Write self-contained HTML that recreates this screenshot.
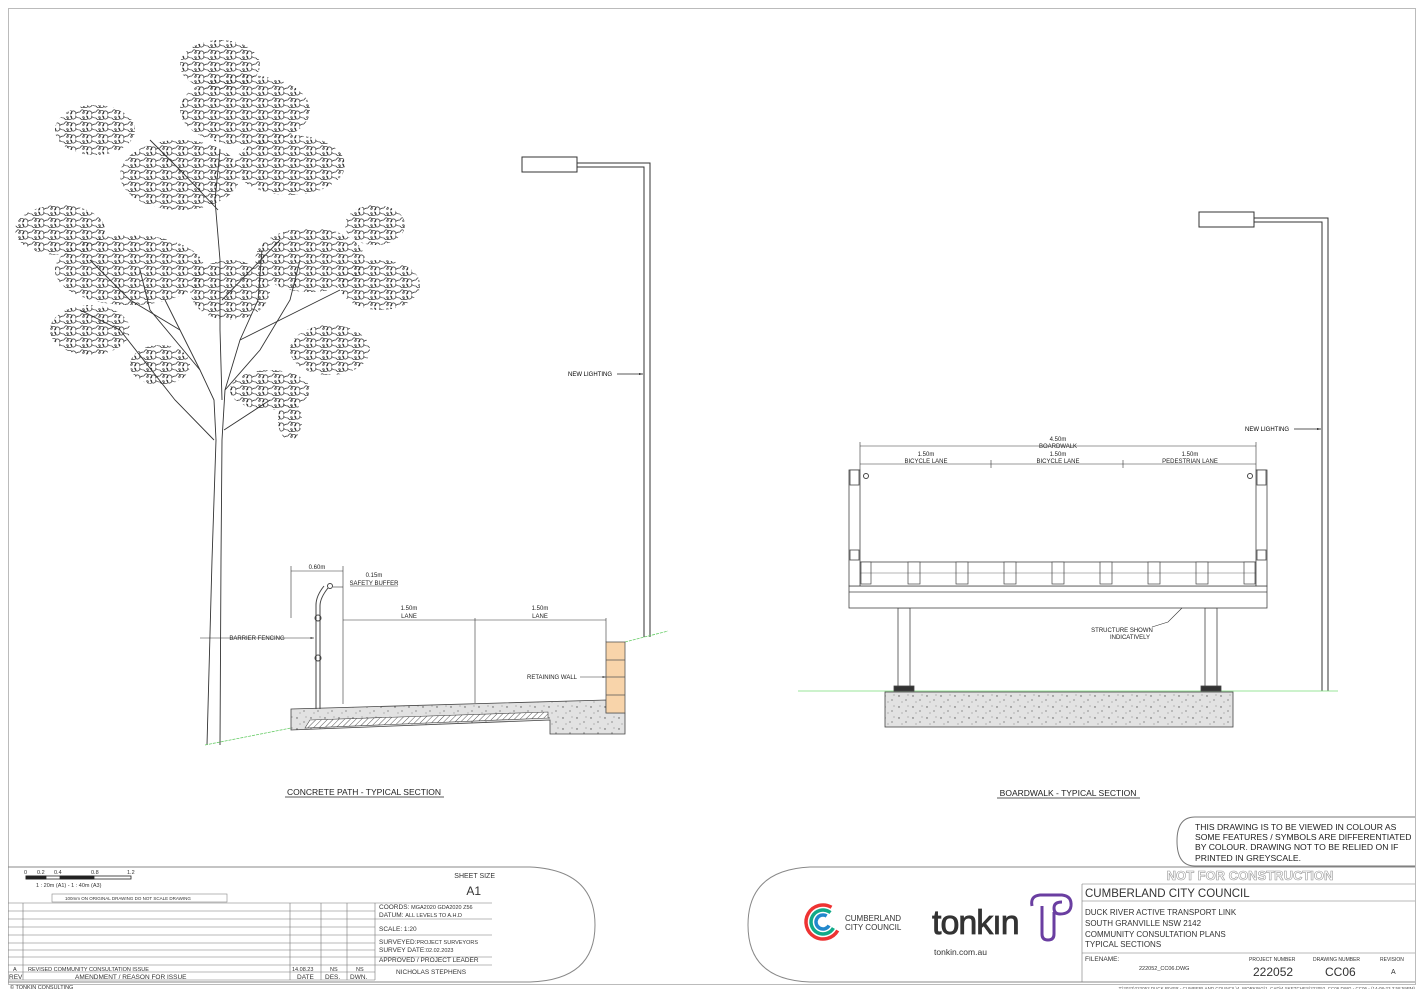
<!DOCTYPE html>
<html><head><meta charset="utf-8"><style>
html,body{margin:0;padding:0;background:#fff;}
svg{display:block;font-family:"Liberation Sans",sans-serif;}
</style></head><body>
<svg width="1423" height="989" viewBox="0 0 1423 989" xmlns="http://www.w3.org/2000/svg">
<defs>
<pattern id="conc" width="14" height="11" patternUnits="userSpaceOnUse">
<rect width="14" height="11" fill="#e2e2e2"/>
<circle cx="3" cy="3" r="0.7" fill="#555"/><circle cx="10" cy="7" r="0.6" fill="#555"/><circle cx="6" cy="9" r="0.5" fill="#666"/><circle cx="12" cy="2" r="0.5" fill="#666"/>
</pattern>
<pattern id="hatch" width="4" height="4" patternUnits="userSpaceOnUse" patternTransform="rotate(45)">
<rect width="4" height="4" fill="#fff"/><line x1="0" y1="0" x2="0" y2="4" stroke="#555" stroke-width="1"/>
</pattern>
<pattern id="leaf" width="16" height="12" patternUnits="userSpaceOnUse">
<path d="M0 4 q2 -4 4 -1 q1 3 -1.5 2 q2 -4 5 -2 q1 3 -1 3 q2 -5 5 -2 q1 2 0 2 q1 -2 4.5 -2 M0 10 q2 3 4 1 q1 -3 -1.5 -2 q2 4 5 2 q1 -3 -1 -3 q2 5 5 2 q1 -2 0 -2 q1 2 4.5 2" fill="none" stroke="#333" stroke-width="0.7"/>
</pattern>
<marker id="ar" markerWidth="6" markerHeight="6" refX="6" refY="3" orient="auto"><path d="M0 1.5 L6 3 L0 4.5z" fill="#222"/></marker>
</defs>

<rect x="8.5" y="8.5" width="1407" height="976" fill="none" stroke="#bbb"/>

<!-- TREE -->
<g fill="url(#leaf)" stroke="none">
<ellipse cx="220" cy="65" rx="40" ry="25"/>
<ellipse cx="245" cy="110" rx="65" ry="35"/>
<ellipse cx="95" cy="130" rx="40" ry="25"/>
<ellipse cx="290" cy="165" rx="55" ry="30"/>
<ellipse cx="180" cy="175" rx="60" ry="35"/>
<ellipse cx="60" cy="230" rx="45" ry="25"/>
<ellipse cx="375" cy="225" rx="30" ry="20"/>
<ellipse cx="130" cy="270" rx="75" ry="35"/>
<ellipse cx="310" cy="260" rx="55" ry="32"/>
<ellipse cx="380" cy="285" rx="40" ry="25"/>
<ellipse cx="90" cy="330" rx="40" ry="25"/>
<ellipse cx="230" cy="290" rx="40" ry="30"/>
<ellipse cx="330" cy="350" rx="40" ry="25"/>
<ellipse cx="160" cy="365" rx="30" ry="20"/>
<ellipse cx="270" cy="390" rx="40" ry="20"/>
<ellipse cx="290" cy="420" rx="12" ry="20"/>
</g>
<g fill="none" stroke="#333" stroke-width="0.9">
<path d="M207 745 L212 560 L216 440 L214 400 L200 370 L180 330 L165 300"/>
<path d="M220 745 L221 560 L222 440 L225 390 L240 340 L258 300 L262 250"/>
<path d="M214 440 L175 400 L120 330 L80 310"/>
<path d="M200 370 L150 310 L140 270"/>
<path d="M222 400 L220 330 L220 260 L215 200 L220 150"/>
<path d="M225 390 L260 350 L290 300 L300 260"/>
<path d="M240 340 L300 310 L340 290"/>
<path d="M180 330 L130 300 L90 260"/>
<path d="M222 300 L280 240"/>
<path d="M218 210 L180 170 L150 140"/>
<path d="M224 430 L270 400"/>
</g>

<!-- LEFT LAMP -->
<rect x="522" y="157" width="55" height="15" fill="#fff" stroke="#333"/>
<path d="M577 163 H650 V637" fill="none" stroke="#333" stroke-width="1"/>
<path d="M577 167 H644 V637" fill="none" stroke="#333" stroke-width="1"/>
<text x="568" y="376" font-size="6">NEW LIGHTING</text>
<line x1="617" y1="374" x2="643" y2="374" stroke="#222" stroke-width="0.7" marker-end="url(#ar)"/>

<!-- CONCRETE PATH -->
<line x1="205" y1="745" x2="291" y2="728" stroke="#6c6" stroke-width="0.8" stroke-dasharray="3,1"/>
<line x1="625" y1="642" x2="668" y2="631" stroke="#6c6" stroke-width="0.8" stroke-dasharray="3,1"/>
<path d="M291 709 L606 700 L606 713 L625 713 L625 734 L550 734 L550 720 L291 730 Z" fill="url(#conc)" stroke="#444" stroke-width="0.8"/>
<path d="M305 728 L310 720 L548 712 L548 718 L305 728Z" fill="url(#hatch)" stroke="#444" stroke-width="0.6"/>
<rect x="606" y="642" width="19" height="71" fill="#f8d4aa" stroke="#555" stroke-width="0.8"/>
<line x1="606" y1="660" x2="625" y2="660" stroke="#555" stroke-width="0.7"/>
<line x1="606" y1="677" x2="625" y2="677" stroke="#555" stroke-width="0.7"/>
<line x1="606" y1="695" x2="625" y2="695" stroke="#555" stroke-width="0.7"/>
<path d="M316 709 V605 Q316 596 324 586" fill="none" stroke="#444" stroke-width="1"/>
<path d="M320 709 V606 Q320 598 328 588" fill="none" stroke="#444" stroke-width="1"/>
<circle cx="330" cy="586" r="2.5" fill="none" stroke="#444"/>
<circle cx="318" cy="618" r="3" fill="none" stroke="#444"/>
<circle cx="318" cy="658" r="3" fill="none" stroke="#444"/>
<g stroke="#333" stroke-width="0.6" fill="none">
<line x1="291" y1="566" x2="291" y2="618"/>
<line x1="343" y1="566" x2="343" y2="704"/>
<line x1="475" y1="618" x2="475" y2="703"/>
<line x1="606" y1="618" x2="606" y2="642"/>
<line x1="291" y1="571" x2="343" y2="571"/>
<line x1="343" y1="620" x2="606" y2="620"/>
<line x1="200" y1="638" x2="314" y2="638" marker-end="url(#ar)"/>
<line x1="333" y1="587" x2="343" y2="587"/>
<line x1="350" y1="586" x2="398" y2="586"/>
<line x1="580" y1="677" x2="606" y2="677" marker-end="url(#ar)"/>
</g>
<g font-size="6" text-anchor="middle" fill="#222">
<text x="317" y="569">0.60m</text>
<text x="374" y="577">0.15m</text>
<text x="374" y="585">SAFETY BUFFER</text>
<text x="409" y="610">1.50m</text><text x="409" y="618">LANE</text>
<text x="540" y="610">1.50m</text><text x="540" y="618">LANE</text>
<text x="257" y="640">BARRIER FENCING</text>
<text x="552" y="679">RETAINING WALL</text>
</g>
<text x="364" y="795" font-size="8.5" text-anchor="middle" fill="#222">CONCRETE PATH - TYPICAL SECTION</text>
<line x1="285" y1="797" x2="444" y2="797" stroke="#222" stroke-width="0.7"/>

<!-- RIGHT LAMP -->
<rect x="1199" y="212" width="55" height="15" fill="#fff" stroke="#333"/>
<path d="M1254 218 H1328 V691" fill="none" stroke="#333"/>
<path d="M1254 222 H1322 V691" fill="none" stroke="#333"/>
<text x="1245" y="431" font-size="6">NEW LIGHTING</text>
<line x1="1294" y1="429" x2="1321" y2="429" stroke="#222" stroke-width="0.7" marker-end="url(#ar)"/>

<!-- BOARDWALK -->
<line x1="798" y1="691" x2="1338" y2="691" stroke="#7d7" stroke-width="0.8"/>
<rect x="885" y="692" width="348" height="35" fill="url(#conc)" stroke="#444" stroke-width="0.8"/>
<g fill="#fff" stroke="#444" stroke-width="0.8">
<rect x="898" y="608" width="12" height="82"/>
<rect x="1205" y="608" width="12" height="82"/>
<rect x="894" y="686" width="20" height="5" fill="#333"/>
<rect x="1201" y="686" width="20" height="5" fill="#333"/>
<rect x="849" y="586" width="418" height="22"/>
<line x1="849" y1="592" x2="1267" y2="592"/>
<rect x="860" y="562" width="396" height="24"/>
<rect x="849" y="470" width="11" height="116"/>
<rect x="1256" y="470" width="11" height="116"/>
<rect x="850" y="470" width="9" height="15"/>
<rect x="1257" y="470" width="9" height="15"/>
<rect x="850" y="550" width="9" height="10"/>
<rect x="1257" y="550" width="9" height="10"/>
</g>
<g stroke="#444" stroke-width="0.7" fill="#fff">
<rect x="861" y="562" width="10" height="22"/>
<rect x="908" y="562" width="12" height="22"/>
<rect x="956" y="562" width="12" height="22"/>
<rect x="1004" y="562" width="12" height="22"/>
<rect x="1052" y="562" width="12" height="22"/>
<rect x="1100" y="562" width="12" height="22"/>
<rect x="1148" y="562" width="12" height="22"/>
<rect x="1196" y="562" width="12" height="22"/>
<rect x="1244" y="562" width="11" height="22"/>
<line x1="860" y1="573" x2="1256" y2="573" stroke-width="0.4"/>
</g>
<circle cx="866" cy="476" r="2.5" fill="none" stroke="#444"/>
<circle cx="1250" cy="476" r="2.5" fill="none" stroke="#444"/>
<g stroke="#333" stroke-width="0.6" fill="none">
<line x1="860" y1="446" x2="1256" y2="446"/>
<line x1="860" y1="464" x2="1256" y2="464"/>
<line x1="860" y1="442" x2="860" y2="470"/>
<line x1="1256" y1="442" x2="1256" y2="470"/>
<line x1="991" y1="460" x2="991" y2="468"/>
<line x1="1123" y1="460" x2="1123" y2="468"/>
<path d="M1152 627 L1168 622 L1182 608"/>
</g>
<g font-size="6" text-anchor="middle" fill="#222">
<text x="1058" y="441">4.50m</text><text x="1058" y="448">BOARDWALK</text>
<text x="926" y="456">1.50m</text><text x="926" y="463">BICYCLE LANE</text>
<text x="1058" y="456">1.50m</text><text x="1058" y="463">BICYCLE LANE</text>
<text x="1190" y="456">1.50m</text><text x="1190" y="463">PEDESTRIAN LANE</text>
<text x="1122" y="632">STRUCTURE SHOWN</text><text x="1130" y="639">INDICATIVELY</text>
</g>
<text x="1068" y="796" font-size="8.5" text-anchor="middle" fill="#222">BOARDWALK - TYPICAL SECTION</text>
<line x1="997" y1="798" x2="1140" y2="798" stroke="#222" stroke-width="0.7"/>

<!-- NOTE BOX -->
<path d="M1415 817 H1195 Q1177 817 1177 841 Q1177 866 1195 866 H1415" fill="none" stroke="#777"/>
<g font-size="8.6" fill="#222">
<text x="1195" y="830">THIS DRAWING IS TO BE VIEWED IN COLOUR AS</text>
<text x="1195" y="840">SOME FEATURES / SYMBOLS ARE DIFFERENTIATED</text>
<text x="1195" y="850">BY COLOUR. DRAWING NOT TO BE RELIED ON IF</text>
<text x="1195" y="861">PRINTED IN GREYSCALE.</text>
</g>

<!-- LEFT TITLE BLOCK -->
<path d="M8 867 H530 Q595 870 595 925 Q595 980 530 982 H8" fill="none" stroke="#888"/>
<g stroke="#222" stroke-width="0.8">
<rect x="26" y="876" width="105" height="3" fill="#fff"/>
<rect x="26" y="876" width="20" height="3" fill="#222"/>
<rect x="60" y="876" width="34" height="3" fill="#222"/>
</g>
<g font-size="5.5" fill="#333">
<text x="24" y="874">0</text><text x="37" y="874">0.2</text><text x="54" y="874">0.4</text><text x="91" y="874">0.8</text><text x="127" y="874">1.2</text>
<text x="36" y="887">1 : 20m (A1) - 1 : 40m (A3)</text>
<text x="65" y="900" font-size="4.5">100mm ON ORIGINAL DRAWING   DO NOT SCALE DRAWING</text>
</g>
<rect x="52" y="894" width="175" height="8" fill="none" stroke="#888" stroke-width="0.6"/>
<text x="495" y="878" font-size="7" text-anchor="end" fill="#333">SHEET SIZE</text>
<text x="481" y="895" font-size="12" text-anchor="end" fill="#333">A1</text>
<g stroke="#777" stroke-width="0.6">
<line x1="8" y1="903" x2="492" y2="903"/>
<line x1="8" y1="911" x2="375" y2="911"/><line x1="8" y1="919" x2="492" y2="919"/>
<line x1="8" y1="927" x2="375" y2="927"/><line x1="8" y1="935" x2="492" y2="935"/>
<line x1="8" y1="943" x2="375" y2="943"/><line x1="8" y1="950" x2="375" y2="950"/>
<line x1="8" y1="957" x2="492" y2="957"/><line x1="8" y1="965" x2="492" y2="965"/>
<line x1="8" y1="972" x2="375" y2="972"/><line x1="8" y1="980" x2="375" y2="980"/>
<line x1="23" y1="903" x2="23" y2="980"/>
<line x1="290" y1="903" x2="290" y2="980"/><line x1="321" y1="903" x2="321" y2="980"/>
<line x1="347" y1="903" x2="347" y2="980"/><line x1="375" y1="903" x2="375" y2="980"/>
</g>
<g font-size="6.5" fill="#333">
<text x="379" y="909">COORDS: <tspan font-size="5.5">MGA2020 GDA2020 Z56</tspan></text>
<text x="379" y="917">DATUM: <tspan font-size="5.5">ALL LEVELS TO A.H.D</tspan></text>
<text x="379" y="931">SCALE: 1:20</text>
<text x="379" y="944">SURVEYED:<tspan font-size="5.5">PROJECT SURVEYORS</tspan></text>
<text x="379" y="952">SURVEY DATE:<tspan font-size="5.5">02.02.2023</tspan></text>
<text x="379" y="962">APPROVED / PROJECT LEADER</text>
<text x="396" y="974">NICHOLAS STEPHENS</text>
<text x="13" y="971" font-size="5.5">A</text>
<text x="28" y="971" font-size="5.5">REVISED COMMUNITY CONSULTATION ISSUE</text>
<text x="292" y="971" font-size="5.5">14.08.23</text>
<text x="330" y="971" font-size="5.5">NS</text><text x="356" y="971" font-size="5.5">NS</text>
<text x="9" y="979">REV</text>
<text x="75" y="979">AMENDMENT /  REASON FOR ISSUE</text>
<text x="297" y="979">DATE</text><text x="325" y="979">DES.</text><text x="350" y="979">DWN.</text>
<text x="10" y="989" font-size="5.5">©  TONKIN CONSULTING</text>
</g>

<!-- RIGHT TITLE BLOCK -->
<path d="M1415 867 H810 Q748 870 748 925 Q748 980 810 982 H1415" fill="none" stroke="#888"/>
<circle cx="823" cy="922" r="17" fill="none" stroke="#e33" stroke-width="3.5" stroke-dasharray="80 27" transform="rotate(30 823 922)"/>
<circle cx="823" cy="922" r="12" fill="none" stroke="#1a8" stroke-width="3.5" stroke-dasharray="58 18" transform="rotate(30 823 922)"/>
<circle cx="823" cy="922" r="7" fill="none" stroke="#28c" stroke-width="3.5" stroke-dasharray="33 11" transform="rotate(30 823 922)"/>
<text x="845" y="921" font-size="8" fill="#333">CUMBERLAND</text>
<text x="845" y="930" font-size="8" fill="#333">CITY COUNCIL</text>
<text x="932" y="934" font-size="34" fill="#333" stroke="#333" stroke-width="0.8" letter-spacing="-1">tonkın</text>
<path d="M1032 906 Q1030 896 1040 895 L1062 895 Q1072 896 1071 906 Q1070 914 1060 914 Q1054 914 1054 908 Q1054 902 1062 902 M1054 912 L1054 934 Q1054 940 1048 940 Q1042 940 1042 934 L1042 906" fill="none" stroke="#6a3ea1" stroke-width="3"/>
<text x="934" y="955" font-size="8.5" fill="#333">tonkin.com.au</text>
<text x="1250" y="880" font-size="13" text-anchor="middle" fill="#fff" stroke="#999" stroke-width="0.6" font-weight="bold">NOT FOR CONSTRUCTION</text>
<g stroke="#777" stroke-width="0.6">
<line x1="1082" y1="884" x2="1415" y2="884"/>
<line x1="1082" y1="884" x2="1082" y2="982"/>
<line x1="1082" y1="901" x2="1415" y2="901"/>
<line x1="1082" y1="953" x2="1415" y2="953"/>
</g>
<text x="1085" y="897" font-size="11.5" fill="#333">CUMBERLAND CITY COUNCIL</text>
<g font-size="8" fill="#333">
<text x="1085" y="915">DUCK RIVER ACTIVE TRANSPORT LINK</text>
<text x="1085" y="926">SOUTH GRANVILLE NSW 2142</text>
<text x="1085" y="937">COMMUNITY CONSULTATION PLANS</text>
<text x="1085" y="947">TYPICAL SECTIONS</text>
<text x="1085" y="961" font-size="6.5">FILENAME:</text>
<text x="1139" y="970" font-size="5.5">222052_CC06.DWG</text>
<text x="1249" y="961" font-size="5">PROJECT NUMBER</text>
<text x="1313" y="961" font-size="5">DRAWING NUMBER</text>
<text x="1380" y="961" font-size="5">REVISION</text>
<text x="1253" y="976" font-size="12">222052</text>
<text x="1325" y="976" font-size="12">CC06</text>
<text x="1391" y="974" font-size="7">A</text>
</g>
<text x="1415" y="990" font-size="4.5" text-anchor="end" fill="#555">T:\2022\222052 DUCK RIVER - CUMBERLAND COUNCIL\4. WORKING\1. CAD\4 SKETCHES\222052_CC06.DWG - CC06 - (14-08-23 3:58:59PM)</text>
</svg>
</body></html>
